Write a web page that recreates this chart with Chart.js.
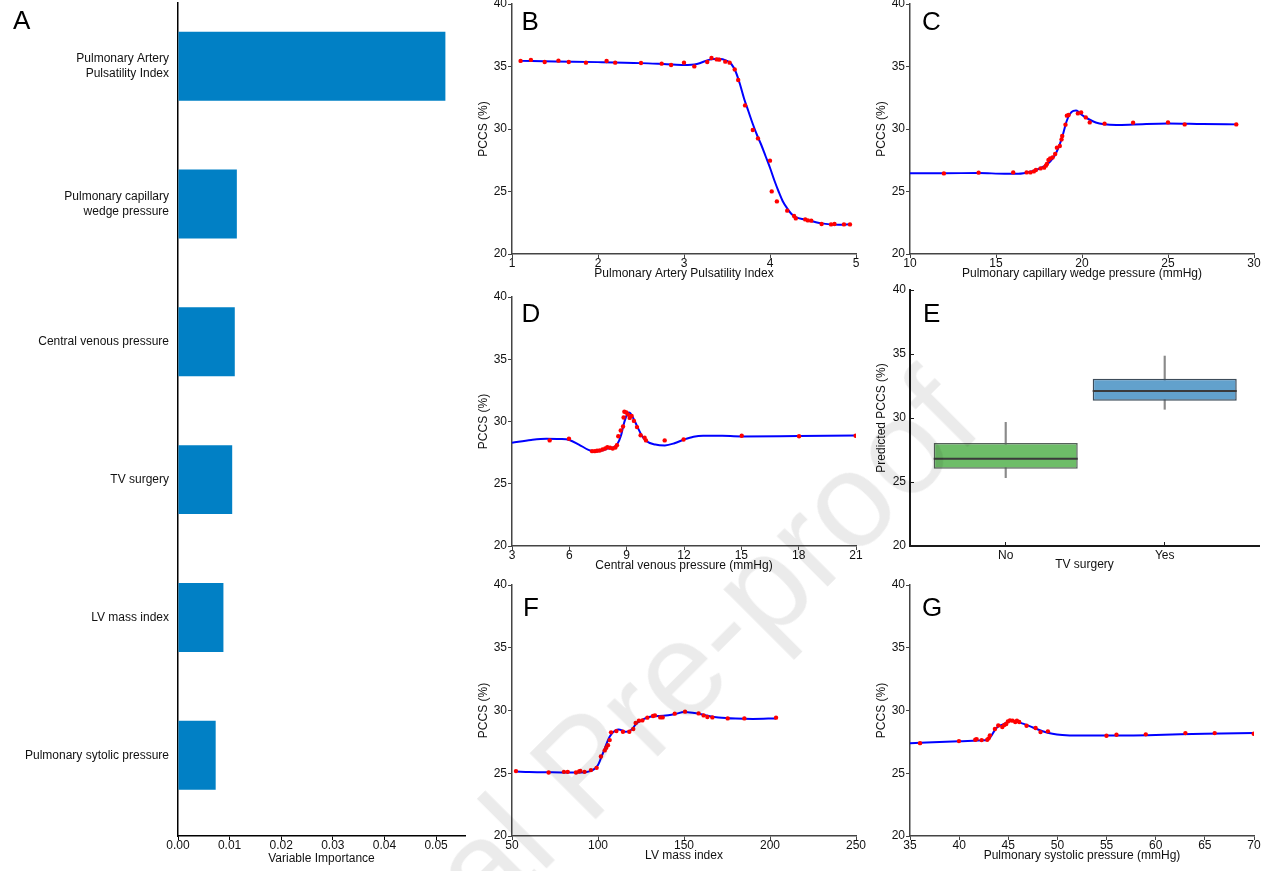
<!DOCTYPE html>
<html lang="en">
<head>
<meta charset="UTF-8">
<title>PCCS: variable importance and partial dependence</title>
<script src="https://cdn.jsdelivr.net/npm/chart.js@4.4.1/dist/chart.umd.min.js"></script>
<style>
  html, body { margin: 0; padding: 0; background: #fff; overflow: hidden; }
  #stage { position: relative; width: 1273px; height: 871px; overflow: hidden; }
  #stage canvas { position: absolute; }
  #watermark {
    position: absolute; left: 215px; top: 1066px;
    font: 135px/135px "Liberation Sans", Arial, sans-serif;
    color: rgba(0, 0, 0, 0.08); white-space: nowrap;
    transform-origin: 0 50%; transform: rotate(-45deg);
    pointer-events: none;
  }
</style>
</head>
<body>
<div id="stage">
  <canvas id="chartA"></canvas>
  <canvas id="chartB"></canvas>
  <canvas id="chartC"></canvas>
  <canvas id="chartD"></canvas>
  <canvas id="chartE"></canvas>
  <canvas id="chartF"></canvas>
  <canvas id="chartG"></canvas>
  <div id="watermark">Journal Pre-proof</div>
</div>

<script>
// ---- A: variable importance
const varNames = [['Pulmonary Artery', 'Pulsatility Index'], ['Pulmonary capillary', 'wedge pressure'],
  'Central venous pressure', 'TV surgery', 'LV mass index', 'Pulmonary sytolic pressure'];
const varImportance = [0.0518, 0.0114, 0.0110, 0.0105, 0.0088, 0.0073];
const importanceTicks = [0, 0.01, 0.02, 0.03, 0.04, 0.05];

const pccsTicks = [20, 25, 30, 35, 40];

// ---- B: pulmonary artery pulsatility index
const papiTicks = [1, 2, 3, 4, 5];
const papiX = [1.10, 1.22, 1.38, 1.54, 1.66, 1.86, 2.10, 2.20, 2.50, 2.74, 2.85, 3.00, 3.12, 3.27, 3.32, 3.38, 3.41, 3.48, 3.53, 3.59,
  3.63, 3.71, 3.80, 3.86, 4.00, 4.02, 4.08, 4.20, 4.28, 4.30, 4.41, 4.44, 4.48, 4.60, 4.71, 4.75, 4.86, 4.93];
const papiY = [35.45, 35.53, 35.36, 35.47, 35.36, 35.31, 35.44, 35.31, 35.28, 35.23, 35.12, 35.31, 35.01, 35.36, 35.68, 35.57, 35.55, 35.39, 35.31, 34.77,
  33.92, 31.89, 29.92, 29.25, 27.47, 25.01, 24.21, 23.47, 23.04, 22.85, 22.77, 22.69, 22.67, 22.40, 22.37, 22.40, 22.37, 22.37];
const papiFitX = [1.10, 1.50, 2.00, 2.50, 2.80, 3.00, 3.15, 3.30, 3.40, 3.50, 3.55, 3.60, 3.65, 3.70, 3.75, 3.80,
  3.85, 3.90, 3.95, 4.00, 4.05, 4.10, 4.15, 4.20, 4.25, 4.30, 4.40, 4.50, 4.60, 4.70, 4.80, 4.93];
const papiFitY = [35.45, 35.40, 35.35, 35.27, 35.18, 35.12, 35.20, 35.55, 35.62, 35.45, 35.20, 34.60, 33.60, 32.40, 31.40, 30.40,
  29.50, 28.70, 27.80, 26.90, 25.90, 25.00, 24.20, 23.65, 23.20, 22.95, 22.75, 22.60, 22.45, 22.37, 22.35, 22.38];

// ---- C: pulmonary capillary wedge pressure
const pcwpTicks = [10, 15, 20, 25, 30];
const pcwpX = [11.97, 13.99, 16.00, 16.78, 17.00, 17.20, 17.32, 17.59, 17.80, 17.90, 17.96, 18.05, 18.15, 18.29, 18.44, 18.54,
  18.71, 18.81, 18.85, 19.04, 19.12, 19.22, 19.76, 19.95, 20.22, 20.45, 21.31, 22.97, 25.00, 25.97, 28.97];
const pcwpY = [26.45, 26.51, 26.53, 26.53, 26.53, 26.61, 26.72, 26.85, 26.91, 27.07, 27.20, 27.52, 27.65, 27.73, 28.00, 28.51,
  28.64, 29.17, 29.44, 30.35, 31.07, 31.12, 31.25, 31.33, 30.93, 30.53, 30.43, 30.51, 30.53, 30.37, 30.37];
const pcwpFitX = [10, 12, 14, 15.5, 16.3, 17.0, 17.5, 18.0, 18.3, 18.5, 18.7, 18.9, 19.1, 19.3, 19.5, 19.65, 19.8, 20.0, 20.4, 20.8,
  21.3, 22, 23, 25, 27, 29];
const pcwpFitY = [26.47, 26.46, 26.48, 26.42, 26.42, 26.58, 26.82, 27.20, 27.65, 28.10, 28.75, 29.60, 30.60, 31.20, 31.45, 31.48, 31.38, 31.12, 30.78, 30.52,
  30.38, 30.33, 30.36, 30.44, 30.40, 30.37];

// ---- D: central venous pressure
const cvpTicks = [3, 6, 9, 12, 15, 18, 21];
const cvpX = [4.97, 5.98, 7.19, 7.33, 7.45, 7.59, 7.74, 7.88, 7.99, 8.13, 8.27, 8.41, 8.49, 8.56, 8.69, 8.81,
  8.84, 8.88, 8.98, 9.07, 9.16, 9.26, 9.38, 9.54, 9.73, 9.94, 10.01, 10.99, 11.98, 15.02, 18.02, 20.98];
const cvpY = [28.48, 28.61, 27.62, 27.62, 27.65, 27.67, 27.75, 27.83, 27.94, 27.89, 27.83, 27.91, 28.10, 28.82, 29.28, 29.60,
  30.32, 30.78, 30.72, 30.56, 30.29, 30.45, 30.05, 29.55, 28.90, 28.69, 28.48, 28.48, 28.56, 28.85, 28.82, 28.85];
const cvpFitX = [3, 4, 4.8, 5.5, 6.0, 6.5, 7.0, 7.3, 7.6, 8.0, 8.3, 8.5, 8.7, 8.85, 9.0, 9.1, 9.2, 9.4, 9.6, 9.8,
  10.0, 10.5, 11.0, 11.5, 12.0, 12.5, 13.0, 14.0, 15.0, 18.0, 21.0];
const cvpFitY = [28.29, 28.52, 28.62, 28.60, 28.52, 28.15, 27.72, 27.60, 27.63, 27.82, 27.92, 28.15, 28.85, 29.80, 30.50, 30.72, 30.65, 30.10, 29.45, 28.85,
  28.45, 28.15, 28.08, 28.25, 28.55, 28.78, 28.86, 28.85, 28.80, 28.84, 28.88];

// ---- E: TV surgery (box plot)
const tvCategories = ['No', 'Yes'];
const tvWhiskerLow = [25.34, 30.68];
const tvQ1 = [26.04, 31.35];
const tvMedian = [26.82, 32.11];
const tvQ3 = [28.05, 33.07];
const tvWhiskerHigh = [29.66, 34.84];

// ---- F: LV mass index
const lvmiTicks = [50, 100, 150, 200, 250];
const lvmiX = [52.3, 71.3, 80.2, 82.4, 87.2, 89.0, 89.7, 92.2, 95.9, 99.2, 101.7, 103.9, 104.8, 105.8, 106.8, 107.6, 110.7, 114.5, 118.2,
  120.5, 121.9, 123.8, 125.8, 128.7, 132.0, 133.1, 136.2, 137.6, 144.6, 150.6, 158.5, 161.4, 163.6, 166.5, 175.4, 185.1, 203.5];
const lvmiY = [25.17, 25.06, 25.11, 25.11, 25.06, 25.14, 25.19, 25.11, 25.25, 25.43, 26.34, 26.82, 27.03, 27.24, 27.64, 28.26, 28.36, 28.31, 28.31,
  28.52, 29.00, 29.19, 29.21, 29.43, 29.56, 29.61, 29.45, 29.45, 29.75, 29.91, 29.77, 29.61, 29.48, 29.45, 29.37, 29.37, 29.43];
const lvmiFitX = [52.3, 60, 70, 80, 90, 95, 98, 100, 102, 104, 106, 108, 110, 112, 114, 116, 118, 120, 122, 125,
  128, 132, 138, 145, 150, 155, 160, 165, 170, 180, 190, 203.5];
const lvmiFitY = [25.14, 25.10, 25.08, 25.06, 25.06, 25.15, 25.35, 25.65, 26.30, 27.00, 27.70, 28.15, 28.40, 28.48, 28.42, 28.30, 28.35, 28.55, 28.90, 29.20,
  29.40, 29.55, 29.58, 29.72, 29.88, 29.82, 29.70, 29.55, 29.45, 29.36, 29.33, 29.37];

// ---- G: pulmonary systolic pressure
const pspTicks = [35, 40, 45, 50, 55, 60, 65, 70];
const pspX = [36.02, 39.98, 41.64, 41.78, 42.29, 42.86, 43.00, 43.13, 43.64, 43.98, 44.39, 44.59, 44.79, 44.96, 45.17,
  45.44, 45.71, 45.88, 46.11, 46.86, 47.78, 48.28, 49.03, 54.99, 56.01, 58.99, 63.02, 66.00, 69.97];
const pspY = [27.40, 27.56, 27.67, 27.72, 27.64, 27.67, 27.78, 28.02, 28.52, 28.81, 28.68, 28.84, 28.92, 29.13, 29.21,
  29.19, 29.08, 29.19, 29.08, 28.79, 28.60, 28.28, 28.34, 27.99, 28.07, 28.10, 28.20, 28.20, 28.15];
const pspFitX = [35, 40, 42.5, 42.9, 43.2, 43.6, 44.0, 44.5, 45.0, 45.3, 45.7, 46.5, 47.5, 48.5, 49.5, 50.5, 52, 55, 60, 65, 70];
const pspFitY = [27.40, 27.55, 27.62, 27.65, 27.90, 28.40, 28.75, 28.90, 29.10, 29.20, 29.15, 28.95, 28.65, 28.35, 28.15, 28.05, 28.00, 28.00, 28.05, 28.15, 28.20];

// ---------------------------------------------------------------
Chart.defaults.font.family = '"Liberation Sans", Arial, Helvetica, sans-serif';
Chart.defaults.font.size = 12;
Chart.defaults.color = '#111';

const zip = (xs, ys) => xs.map((x, i) => ({ x: x, y: ys[i] }));

// big panel letter in the top-left corner of each plot
const panelLetter = {
  id: 'panelLetter',
  afterDraw(chart, args, opts) {
    if (!opts.text) return;
    const { ctx, chartArea } = chart;
    ctx.save();
    ctx.font = '26px "Liberation Sans", Arial, sans-serif';
    ctx.fillStyle = '#000';
    ctx.textBaseline = 'alphabetic';
    ctx.fillText(opts.text, chartArea.left + opts.dx, chartArea.top + opts.dy);
    ctx.restore();
  }
};

// canvas margins round the plot area of panels B-G
const PL = 45, PT = 20, PR = 22, PB = 40;

function place(canvas, area) {
  canvas.width = area.w + PL + PR;
  canvas.height = area.h + PT + PB;
  canvas.style.left = (area.x - PL) + 'px';
  canvas.style.top = (area.y - PT) + 'px';
}

function axis(min, max, ticks, title, o) {
  o = o || {};
  return {
    type: 'linear', min: min, max: max, offset: false,
    afterBuildTicks: a => { a.ticks = ticks.map(v => ({ value: v })); },
    afterFit: a => { if (a.isHorizontal()) a.height = o.size; else a.width = o.size; },
    grid: { display: true, drawOnChartArea: false, drawTicks: true, tickLength: o.tickLength || 4, color: o.color, offset: false },
    border: { display: true, color: o.color, width: o.width || 1.5 },
    ticks: { autoSkip: false, maxRotation: 0, padding: o.padding, color: '#111', callback: o.label || (v => String(v)) },
    title: { display: true, text: title, color: '#111', font: { size: 12 }, padding: o.titlePad }
  };
}

function linePanel(id, area, letter, px, py, fx, fy, xMin, xMax, xTicks, xTitle) {
  const canvas = document.getElementById(id);
  place(canvas, area);
  return new Chart(canvas, {
    type: 'scatter',
    data: {
      datasets: [
        { data: zip(px, py), pointRadius: 2.2, pointBackgroundColor: '#ff0000', pointBorderWidth: 0 },
        { data: zip(fx, fy), showLine: true, borderColor: '#0000ff', borderWidth: 2, pointRadius: 0,
          cubicInterpolationMode: 'monotone' }
      ]
    },
    options: {
      animation: false, responsive: false, devicePixelRatio: 1,
      layout: { autoPadding: false, padding: { top: PT, right: PR, left: 0, bottom: 0 } },
      plugins: { legend: { display: false }, tooltip: { enabled: false }, panelLetter: letter },
      scales: {
        x: axis(xMin, xMax, xTicks, xTitle, { size: PB, color: '#444', padding: -2, titlePad: { top: 0, bottom: 13 } }),
        y: axis(20, 40, pccsTicks, 'PCCS (%)', { size: PL, color: '#444', padding: 1, titlePad: { top: 9, bottom: 0 } })
      }
    },
    plugins: [panelLetter]
  });
}

// ---- A
(function () {
  const canvas = document.getElementById('chartA');
  canvas.width = 480; canvas.height = 891;
  canvas.style.left = '0px'; canvas.style.top = '-20px';
  new Chart(canvas, {
    type: 'bar',
    data: {
      datasets: [{
        data: varImportance.map((v, i) => ({ x: v, y: i })),
        backgroundColor: '#0180c5', borderWidth: 0,
        categoryPercentage: 0.5, barPercentage: 1
      }]
    },
    options: {
      indexAxis: 'y',
      animation: false, responsive: false, devicePixelRatio: 1,
      layout: { autoPadding: false, padding: { top: 23, right: 15, left: 0, bottom: 0 } },
      plugins: { legend: { display: false }, tooltip: { enabled: false },
        panelLetter: { text: 'A', dx: -165, dy: 26 } },
      scales: {
        x: axis(0, 0.0556, importanceTicks, 'Variable Importance',
          { size: 35, color: '#000', padding: -2, titlePad: { top: 0, bottom: 5 }, label: v => v.toFixed(2) }),
        y: {
          type: 'linear', reverse: true, min: -0.4586, max: 5.586, offset: false,
          afterBuildTicks: a => { a.ticks = varNames.map((_, i) => ({ value: i })); },
          afterFit: a => { a.width = 178; },
          grid: { display: false, drawTicks: false, offset: false },
          border: { display: true, color: '#000', width: 1.5 },
          ticks: { autoSkip: false, padding: 9, color: '#111', callback: (v, i) => varNames[i] }
        }
      }
    },
    plugins: [panelLetter]
  });
})();

// ---- B, C, D, F, G
linePanel('chartB', { x: 512, y: 4, w: 344, h: 250 }, { text: 'B', dx: 9.5, dy: 26 },
  papiX, papiY, papiFitX, papiFitY, 1, 5, papiTicks, 'Pulmonary Artery Pulsatility Index');
linePanel('chartC', { x: 910, y: 4, w: 344, h: 250 }, { text: 'C', dx: 12, dy: 25.5 },
  pcwpX, pcwpY, pcwpFitX, pcwpFitY, 10, 30, pcwpTicks, 'Pulmonary capillary wedge pressure (mmHg)');
linePanel('chartD', { x: 512, y: 297, w: 344, h: 249 }, { text: 'D', dx: 9.5, dy: 24.7 },
  cvpX, cvpY, cvpFitX, cvpFitY, 3, 21, cvpTicks, 'Central venous pressure (mmHg)');
linePanel('chartF', { x: 512, y: 585, w: 344, h: 251 }, { text: 'F', dx: 11, dy: 30.7 },
  lvmiX, lvmiY, lvmiFitX, lvmiFitY, 50, 250, lvmiTicks, 'LV mass index');
linePanel('chartG', { x: 910, y: 585, w: 344, h: 251 }, { text: 'G', dx: 12, dy: 30.7 },
  pspX, pspY, pspFitX, pspFitY, 35, 70, pspTicks, 'Pulmonary systolic pressure (mmHg)');

// ---- E: box plot built from floating bars
(function () {
  const canvas = document.getElementById('chartE');
  place(canvas, { x: 910, y: 290, w: 349, h: 256 });
  const pos = tvCategories.map((_, i) => i + 1);
  new Chart(canvas, {
    type: 'bar',
    data: {
      datasets: [
        { type: 'scatter', order: 1, data: pos.map((p, i) => ({ x: p, y: tvMedian[i] })),
          pointStyle: 'line', pointRadius: 72, pointBorderWidth: 2, pointBorderColor: '#3a3a3a' },
        { order: 2, grouped: false, data: pos.map((p, i) => ({ x: p, y: [tvQ1[i], tvQ3[i]] })),
          backgroundColor: ['#6dbd68', '#62a1cc'], borderColor: ['#55615a', '#3d4c5a'],
          borderWidth: 1.5, borderSkipped: false, categoryPercentage: 0.906, barPercentage: 1 },
        { order: 3, grouped: false, data: pos.map((p, i) => ({ x: p, y: [tvWhiskerLow[i], tvWhiskerHigh[i]] })),
          backgroundColor: '#8a8a8a', barThickness: 1.5 }
      ]
    },
    options: {
      animation: false, responsive: false, devicePixelRatio: 1,
      layout: { autoPadding: false, padding: { top: PT, right: PR, left: 0, bottom: 0 } },
      plugins: { legend: { display: false }, tooltip: { enabled: false },
        panelLetter: { text: 'E', dx: 13, dy: 32.3 } },
      scales: {
        x: axis(0.398, 2.593, pos, 'TV surgery',
          { size: PB, color: '#1a1a1a', width: 2, tickLength: -4, padding: 6, titlePad: { top: 0, bottom: 14 },
            label: (v, i) => tvCategories[i] }),
        y: axis(20, 40, pccsTicks, 'Predicted PCCS (%)',
          { size: PL, color: '#1a1a1a', width: 2, tickLength: -4, padding: 8, titlePad: { top: 9, bottom: 0 } })
      }
    },
    plugins: [panelLetter]
  });
})();
</script>
</body>
</html>
